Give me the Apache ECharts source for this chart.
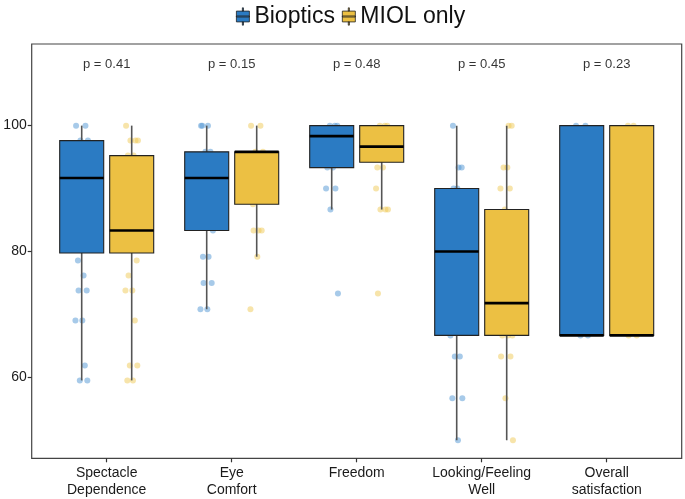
<!DOCTYPE html>
<html>
<head>
<meta charset="utf-8">
<script src="https://cdn.jsdelivr.net/npm/echarts@6/dist/echarts.min.js"></script>
<style>
  html, body { margin: 0; padding: 0; background: #fff; }
  #main { width: 685px; height: 499px; }
</style>
</head>
<body>
<div id="main"></div>
<script>
var categories = ['Spectacle\nDependence', 'Eye\nComfort', 'Freedom', 'Looking/Feeling\nWell', 'Overall\nsatisfaction'];
var pValues = ['p = 0.41', 'p = 0.15', 'p = 0.48', 'p = 0.45', 'p = 0.23'];
var yTicks = [60, 80, 100];

// box stats: [min, Q1, median, Q3, max]
var bioBoxes = [
  [59.52, 79.76, 91.67, 97.62, 100],
  [70.83, 83.33, 91.67, 95.83, 100],
  [86.67, 93.33, 98.33, 100, 100],
  [50, 66.67, 80, 90, 100],
  [66.67, 66.67, 66.67, 100, 100]
];
var miolBoxes = [
  [59.52, 79.76, 83.33, 95.24, 100],
  [79.17, 87.5, 95.83, 95.83, 100],
  [86.67, 94.17, 96.67, 100, 100],
  [50, 66.67, 71.8, 86.67, 100],
  [66.67, 66.67, 66.67, 100, 100]
];

// individual scores per category
var bioPoints = [
  [100, 100, 97.62, 97.62, 78.57, 76.19, 73.81, 73.81, 69.05, 69.05, 61.9, 59.52, 59.52],
  [100, 100, 100, 95.83, 95.83, 83.33, 79.17, 79.17, 75, 75, 70.83, 70.83],
  [100, 100, 100, 93.33, 93.33, 90, 90, 86.67, 73.33],
  [100, 93.33, 93.33, 90, 90, 66.67, 63.33, 63.33, 56.67, 56.67, 50],
  [100, 100, 66.67, 66.67]
];
var miolPoints = [
  [100, 97.62, 97.62, 97.62, 95.24, 95.24, 78.57, 76.19, 73.81, 73.81, 69.05, 61.9, 61.9, 59.52, 59.52],
  [100, 100, 95.83, 95.83, 87.5, 83.33, 83.33, 83.33, 79.17, 70.83],
  [100, 100, 100, 93.33, 93.33, 90, 86.67, 86.67, 86.67, 73.33],
  [100, 100, 93.33, 93.33, 90, 90, 86.67, 66.67, 66.67, 66.67, 63.33, 63.33, 56.67, 50],
  [100, 100, 66.67, 66.67]
];

var BLUE = '#2b7bc3';
var YELLOW = '#ecc043';
var FONT = 'Liberation Sans, Arial, sans-serif';
var Y_MIN = 47.14, Y_MAX = 112.97, P_LABEL_Y = 109.8;
var jitter = [-0.45, 0.3, -0.1, 0.5, -0.3, 0.15, 0.4, -0.25, 0.05, -0.5, 0.25, -0.15, 0.45, -0.35, 0.1];

function boxRender(side, color) {
  return function (params, api) {
    var cat = api.value(0);
    var band = api.size([1, 0])[0];
    var cx = api.coord([cat, 0])[0] + side * band * 0.2;
    var w = band * 0.352;
    var y = function (i) { return api.coord([cat, api.value(i)])[1]; };
    return {
      type: 'group',
      children: [
        { type: 'line', shape: { x1: cx, y1: y(5), x2: cx, y2: y(1) },
          style: { stroke: '#555', lineWidth: 1.6 } },
        { type: 'rect', shape: { x: cx - w / 2, y: y(4), width: w, height: y(2) - y(4) },
          style: { fill: color, stroke: '#222', lineWidth: 1.1 } },
        { type: 'line', shape: { x1: cx - w / 2, y1: y(3), x2: cx + w / 2, y2: y(3) },
          style: { stroke: '#000', lineWidth: 2.6 } }
      ]
    };
  };
}

function pointRender(side, color) {
  return function (params, api) {
    var cat = api.value(0);
    var band = api.size([1, 0])[0];
    var pt = api.coord([cat, api.value(1)]);
    var cx = pt[0] + side * band * 0.2 + jitter[params.dataIndex % jitter.length] * band * 0.1;
    return {
      type: 'circle',
      shape: { cx: cx, cy: pt[1], r: 3 },
      style: { fill: color, opacity: 0.5 }
    };
  };
}

function boxData(boxes) {
  return boxes.map(function (b, i) { return [i].concat(b); });
}
function pointData(groups) {
  var out = [];
  groups.forEach(function (g, i) { g.forEach(function (v) { out.push([i, v]); }); });
  return out;
}

var legendIcon = 'path://M0,3h12v10h-12Z M5.5,0h1v3h-1Z M5.5,13h1v3h-1Z M0,7.5h12v1h-12Z';

var myChart = echarts.init(document.getElementById('main'));
var option = {
  animation: false,
  textStyle: { fontFamily: FONT },
  legend: {
    data: ['Bioptics', 'MIOL only'],
    top: 0,
    left: 231,
    icon: legendIcon,
    itemWidth: 13,
    itemHeight: 18,
    itemGap: 7,
    itemStyle: { borderColor: '#222', borderWidth: 0.8 },
    textStyle: { fontSize: 23, color: '#111', fontFamily: FONT }
  },
  grid: [
    { left: 31.7, right: 3.3, top: 44, bottom: 40.7, show: true,
      borderColor: '#444', borderWidth: 1.2, backgroundColor: 'transparent' },
    { left: 44.2, right: 15.8, top: 44, bottom: 40.7 }
  ],
  xAxis: [
    { type: 'value', gridIndex: 0, show: false, min: 0, max: 1 },
    { type: 'category', gridIndex: 1, data: categories,
      axisLine: { show: false },
      axisTick: { show: true, alignWithLabel: true, length: 4, lineStyle: { color: '#333', width: 1.2 } },
      axisLabel: { fontSize: 14, color: '#1a1a1a', lineHeight: 17, margin: 6, fontFamily: FONT, interval: 0 } }
  ],
  yAxis: [
    { type: 'value', gridIndex: 0, min: Y_MIN, max: Y_MAX, splitLine: { show: false },
      axisLine: { show: false },
      axisTick: { show: true, length: 4, customValues: yTicks, lineStyle: { color: '#333', width: 1.2 } },
      axisLabel: { fontSize: 14, color: '#1a1a1a', margin: 5, customValues: yTicks, fontFamily: FONT } },
    { type: 'value', gridIndex: 1, min: Y_MIN, max: Y_MAX, show: false, splitLine: { show: false } }
  ],
  series: [
    { name: 'Bioptics points', type: 'custom', xAxisIndex: 1, yAxisIndex: 1, silent: true,
      renderItem: pointRender(-1, '#4f96d3'), data: pointData(bioPoints), z: 1 },
    { name: 'MIOL points', type: 'custom', xAxisIndex: 1, yAxisIndex: 1, silent: true,
      renderItem: pointRender(1, '#efc955'), data: pointData(miolPoints), z: 1 },
    { name: 'Bioptics', type: 'custom', xAxisIndex: 1, yAxisIndex: 1,
      itemStyle: { color: BLUE }, renderItem: boxRender(-1, BLUE), data: boxData(bioBoxes), z: 2 },
    { name: 'MIOL only', type: 'custom', xAxisIndex: 1, yAxisIndex: 1,
      itemStyle: { color: YELLOW }, renderItem: boxRender(1, YELLOW), data: boxData(miolBoxes), z: 2 },
    { name: 'p', type: 'scatter', xAxisIndex: 1, yAxisIndex: 1, symbolSize: 0, silent: true,
      data: pValues.map(function (p, i) { return [i, P_LABEL_Y]; }),
      label: { show: true, position: 'inside', fontSize: 13, color: '#000', fontFamily: FONT,
        formatter: function (p) { return pValues[p.dataIndex]; } } }
  ]
};
myChart.setOption(option);
</script>
</body>
</html>
